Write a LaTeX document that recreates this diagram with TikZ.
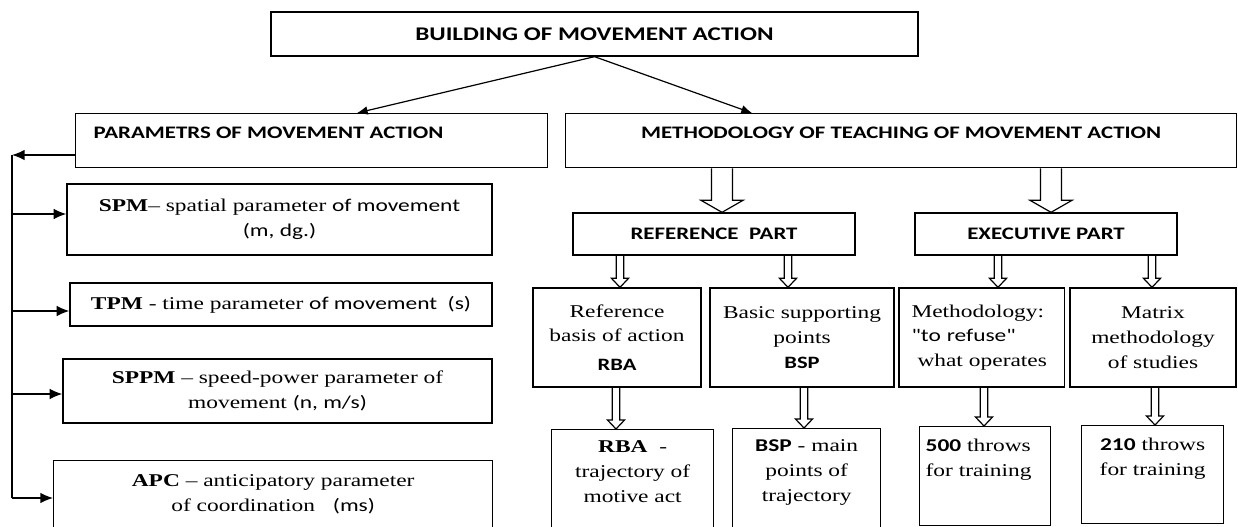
\documentclass[tikz,border=0pt]{standalone}
\usepackage{fontspec}
\setmainfont[FakeStretch=1.3]{Liberation Serif}
\newfontfamily\calib[FakeStretch=1.3]{Carlito}
\usetikzlibrary{arrows.meta,calc}

% hollow arrow: start, end, half shaft, half head, head length
\newcommand\fatarrow[5]{%
  \draw[line width=0.9pt] let \p1=(#1), \p2=(#2) in
    (\x1-#3,\y1) -- (\x1-#3,\y2+#5) -- (\x1-#4,\y2+#5) -- (\x1,\y2)
    -- (\x1+#4,\y2+#5) -- (\x1+#3,\y2+#5) -- (\x1+#3,\y1);}
\newcommand\topbox[3]{\parbox[t][#2][t]{#1}{#3}}

\begin{document}
\begin{tikzpicture}[x=0.75pt, y=-0.75pt, >={Latex[length=9.5pt,width=8pt]},
    font=\fontsize{13.5}{18.5}\selectfont,
    box/.style={draw, line width=1pt, inner sep=0pt, align=center},
    head/.style={font=\fontsize{13.2}{17}\selectfont\calib\bfseries}]
  \useasboundingbox (0,0) rectangle (1238,527);

  \node[box, head, font=\fontsize{14.5}{17}\selectfont\calib\bfseries, minimum width=485.25pt, minimum height=33pt] (build) at (594.5,34) {BUILDING OF MOVEMENT ACTION};
  \node[box, head, anchor=north west] (param) at (75,113)
    {\topbox{354pt}{40.5pt}{\vspace*{10pt}\hspace*{13.5pt}PARAMETRS OF MOVEMENT ACTION}};
  \node[box, head, anchor=north west] (meth) at (565,113)
    {\topbox{503.25pt}{40.5pt}{\centering\vspace*{10pt}METHODOLOGY OF TEACHING OF MOVEMENT ACTION}};

  % parameters
  \node[box, minimum width=318.75pt, minimum height=53.25pt] (spm) at (279.5,219.5)
    {\textbf{SPM}– spatial parameter {\calib of movement}\\{\calib (m, dg.)}};
  \node[box, minimum width=316.5pt, minimum height=32.25pt] (tpm) at (281,304.5)
    {\textbf{TPM} - time parameter {\calib of movement\ \ (s)}};
  \node[box, minimum width=321.75pt, minimum height=48pt] (sppm) at (277.5,391)
    {\textbf{SPPM} – speed-power parameter of\\movement {\calib (n, m/s)}};
  \node[box, anchor=north west] (apc) at (53,460)
    {\topbox{329.25pt}{60pt}{\centering\vspace*{10.5pt}\textbf{APC} – anticipatory parameter\\of coordination\quad{\calib (ms)}}};

  \draw[->, line width=0.9pt, >={Latex[length=8pt,width=6.5pt]}] (build.south) -- (357,0 |- param.north);
  \draw[->, line width=0.9pt, >={Latex[length=8pt,width=6.5pt]}] (build.south) -- (752,0 |- meth.north);
  \coordinate (bus) at (12,155);
  \draw[->, line width=1.1pt] (param.west |- bus) -- (bus);
  \draw[line width=1.1pt] (bus) -- (12,498);
  \foreach \b/\y in {spm/214, tpm/311, sppm/394, apc/498}
    \draw[->, line width=1.1pt] (12,\y) -- (\b.west |- 0,\y);

  % methodology
  \node[box, head, minimum width=211.5pt, minimum height=31.5pt] (refp) at (714,234) {REFERENCE\ \ PART};
  \node[box, head, minimum width=196.5pt, minimum height=31.5pt] (exep) at (1046,234) {EXECUTIVE PART};
  \fatarrow{722,0 |- meth.south}{refp.north}{7.9pt}{15.75pt}{9pt}
  \fatarrow{1051,0 |- meth.south}{exep.north}{7.9pt}{15.75pt}{9pt}

  \node[box, minimum width=126pt, minimum height=74.25pt] (rba) at (617,337.5)
    {Reference\\basis of action\\[3pt]{\fontsize{13}{14}\selectfont\calib\bfseries RBA}};
  \node[box, minimum width=138pt, minimum height=74.25pt] (bsp) at (802,337.5)
    {Basic supporting\\points\\{\fontsize{13}{14}\selectfont\calib\bfseries BSP}};
  \node[box, text width=105pt, inner xsep=9.5pt, align=left, minimum height=74.25pt] (refuse) at (981.5,337.5)
    {Methodology:\\{\calib "to refuse"}\\\ what operates};
  \node[box, minimum width=124.5pt, minimum height=74.25pt] (matr) at (1153,337.5)
    {Matrix\\methodology\\of studies};

  \node[box, anchor=north west] (rbat) at (551,429)
    {\topbox{121.5pt}{83.25pt}{\centering\vspace*{8.5pt}\textbf{RBA}\ \ -\\trajectory of\\motive act}};
  \node[box, anchor=north west] (bspt) at (732,428)
    {\topbox{111pt}{83.25pt}{\centering\vspace*{8.5pt}{\calib\bfseries BSP} - main\\points of\\trajectory}};
  \node[box, anchor=north west] (thr500) at (919,426)
    {\topbox{98.25pt}{74.25pt}{\raggedright\vspace*{9.5pt}\hspace*{4.5pt}{\calib\bfseries 500} throws\\\hspace*{4.5pt}for training}};
  \node[box, anchor=north west] (thr210) at (1081,425)
    {\topbox{106.5pt}{73.5pt}{\centering\vspace*{9.5pt}{\calib\bfseries 210} throws\\for training}};

  \foreach \px/\a/\b in {620/refp/rba, 788/refp/bsp, 998/exep/refuse, 1152/exep/matr,
      616/rba/rbat, 804/bsp/bspt, 984/refuse/thr500, 1155/matr/thr210}
    {\fatarrow{\px,0 |- \a.south}{\b.north}{2.8pt}{6.4pt}{6.75pt}}
\end{tikzpicture}
\end{document}
